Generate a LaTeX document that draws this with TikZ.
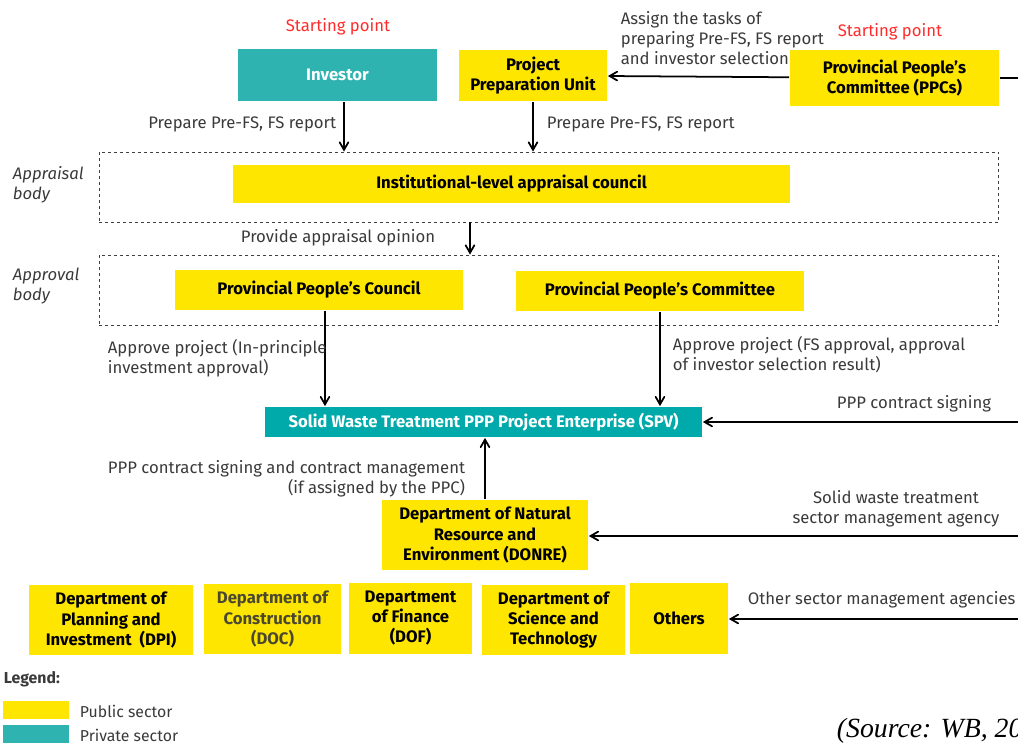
\documentclass[tikz,border=0pt]{standalone}
\usepackage{fontspec}
\setmainfont{Fira Sans}
\newfontfamily\sourcefont{Liberation Serif}
\usepackage{xcolor}
\definecolor{colorPublic}{HTML}{FFE600}
\definecolor{colorPrivate}{HTML}{2FB3B0}
\definecolor{colorEnterprise}{HTML}{00A9AA}
\definecolor{colorStart}{HTML}{FF2B2B}
\definecolor{colorLabel}{HTML}{3A3A3A}
\definecolor{colorDim}{HTML}{4A4830}
\usetikzlibrary{arrows, positioning}
\tikzset{
  public/.style={fill=colorPublic, font=\bfseries, align=center, inner sep=0pt, text=black},
  private/.style={fill=colorPrivate, font=\bfseries, align=center, inner sep=0pt, text=white},
  body/.style={draw=black!75, dashed, dash pattern=on 1.7pt off 1.7pt, line width=0.5pt, minimum width=18cm, minimum height=1.4cm},
  lbl/.style={text=colorLabel, inner sep=0pt},
  start/.style={text=colorStart, inner sep=0pt},
  role/.style={text=colorLabel, font=\itshape, align=left, inner sep=0pt}
}

\begin{document}
\fontsize{9.5}{11.4}\selectfont
\begin{tikzpicture}[x=0.02cm, y=-0.02cm, >=angle 60, line width=1pt]
\useasboundingbox (0,0) rectangle (1018,743);
% top row
\node[start] (start1) at (338,27) {Starting point};
\node[start] (start2) at (890,32) {Starting point};
\node[private, minimum width=3.98cm, minimum height=1.04cm] (investor) at (337.5,75) {Investor};
\node[public, minimum width=2.96cm, minimum height=1.02cm] (ppu) at (533,75.5) {Project\\Preparation Unit};
\node[public, minimum width=4.18cm, minimum height=1.12cm] (ppcs) at (894.5,78) {Provincial People's\\Committee (PPCs)};
\coordinate (rppcs) at (1030,78);
% appraisal and approval bodies
\node[body] (appraisal) at (549,187) {};
\node[role, anchor=west] (appraisaltxt) at (12,185) {Appraisal\\body};
\node[public, minimum width=11.14cm, minimum height=0.76cm] (council) at (511.5,184) {Institutional-level appraisal council};
\node[body] (approval) at (549,290) {};
\node[role, anchor=west] (approvaltxt) at (12,286) {Approval\\body};
\node[public, minimum width=5.76cm, minimum height=0.8cm] (ppcouncil) at (319,290) {Provincial People's Council};
\node[public, minimum width=5.76cm, minimum height=0.8cm] (ppcommittee) at (660,291) {Provincial People's Committee};
% enterprise and departments
\node[private, fill=colorEnterprise, minimum width=8.74cm, minimum height=0.6cm] (spv) at (483.5,422) {Solid Waste Treatment PPP Project Enterprise (SPV)};
\node[public, minimum width=4.12cm, minimum height=1.4cm] (donre) at (485,535) {Department of Natural\\Resource and\\Environment (DONRE)};
\node[public, minimum width=3.28cm, minimum height=1.4cm] (dpi) at (111,620) {Department of\\Planning and\\Investment~~(DPI)};
\node[public, text=colorDim, minimum width=2.74cm, minimum height=1.4cm] (doc) at (272.5,619) {Department of\\Construction\\(DOC)};
\node[public, minimum width=2.46cm, minimum height=1.42cm] (dof) at (410.5,618.5) {Department\\of Finance\\(DOF)};
\node[public, minimum width=2.86cm, minimum height=1.4cm] (dst) at (553.5,620) {Department of\\Science and\\Technology};
\node[public, minimum width=1.96cm, minimum height=1.42cm] (others) at (679,618.5) {Others};
\coordinate (rspv) at (1030,422);
\coordinate (rdonre) at (1030,536);
\coordinate (rothers) at (1030,619);
% connectors
\draw [->] (ppcs) -- (ppu);
\draw (ppcs.east) -- (rppcs);
\draw [->] ([xshift=0.13cm]investor.south) -- ([xshift=0.13cm]investor.south |- appraisal.north);
\draw [->] (ppu.south) -- (ppu.south |- appraisal.north);
\draw [->] (appraisal.south -| 470,0) -- (approval.north -| 470,0);
\draw [->] ([xshift=0.12cm]ppcouncil.south) -- ([xshift=0.12cm]ppcouncil.south |- spv.north);
\draw [->] (ppcommittee.south) -- (ppcommittee.south |- spv.north);
\draw [->] (donre.north) -- (donre.north |- spv.south);
\draw [->] (rspv) -- (spv.east);
\draw [->] (rdonre) -- (donre.east |- rdonre);
\draw [->] (rothers) -- (others.east |- rothers);
% connector texts
\node[lbl, anchor=west, align=left] (assigntxt) at (620,38) {Assign the tasks of\\preparing Pre-FS, FS report\\and investor selection};
\node[lbl, anchor=east] (preparetxt1) at (337,124) {Prepare Pre-FS, FS report};
\node[lbl, anchor=west] (preparetxt2) at (546,124) {Prepare Pre-FS, FS report};
\node[lbl, anchor=east] (opiniontxt) at (436,238) {Provide appraisal opinion};
\node[lbl, anchor=west, align=left] (approvetxt1) at (107,358) {Approve project (In-principle\\investment approval)};
\node[lbl, anchor=west, align=left] (approvetxt2) at (672,355) {Approve project (FS approval, approval\\of investor selection result)};
\node[lbl, anchor=west] (signtxt) at (836,404) {PPP contract signing};
\node[lbl, anchor=east, align=right] (managetxt) at (466,479) {PPP contract signing and contract management\\(if assigned by the PPC)};
\node[lbl, align=center] (sectortxt) at (896,509) {Solid waste treatment\\sector management agency};
\node[lbl, anchor=west] (othertxt) at (747,600) {Other sector management agencies};
% legend
\node[lbl, anchor=west, font=\bfseries\small] (legendtxt) at (3,679) {Legend:};
\node[fill=colorPublic, minimum width=1.32cm, minimum height=0.36cm, inner sep=0pt] (pubkey) at (36,710) {};
\node[lbl, anchor=west, font=\small] (pubtxt) at (79,711) {Public sector};
\node[fill=colorPrivate, minimum width=1.32cm, minimum height=0.36cm, inner sep=0pt] (privkey) at (36,734) {};
\node[lbl, anchor=west, font=\small] (privtxt) at (79,735) {Private sector};
\node[anchor=west, inner sep=0pt, font=\sourcefont\itshape\fontsize{15.8}{19}\selectfont] (sourcetxt) at (836,731) {(Source: WB, 20};
\end{tikzpicture}
\end{document}
